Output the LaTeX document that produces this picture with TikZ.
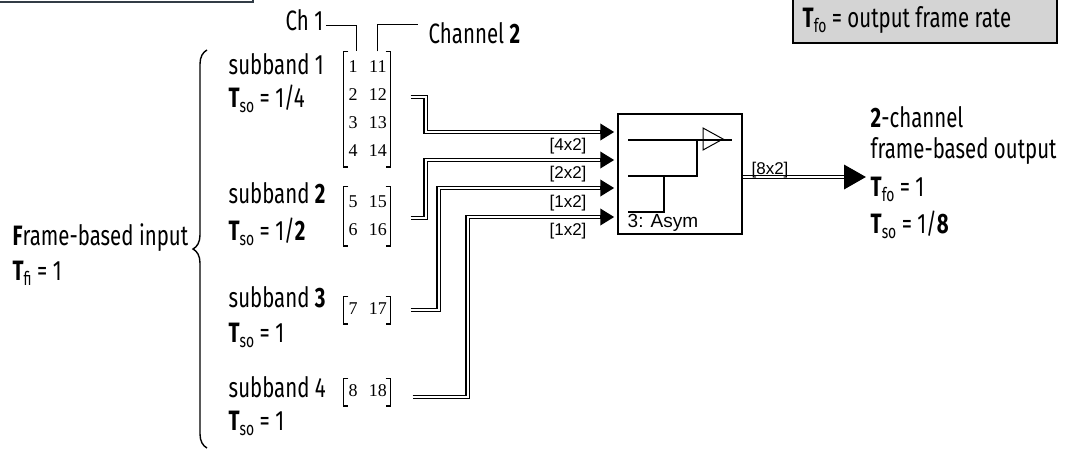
\documentclass[tikz,border=0pt]{standalone}
\usepackage{fontspec}
\setmainfont{Fira Sans}[FakeStretch=0.73]
\newfontfamily\numfont{Liberation Serif}
\newfontfamily\dimfont{Liberation Sans}
\usepackage{tikz}
\usetikzlibrary{positioning, arrows.meta, calc, decorations.pathreplacing}
\definecolor{key-gray}{HTML}{D4D4D4}
\definecolor{frame-slate}{HTML}{323C46}
\newcommand\Tsub[1]{\textbf{T}\raisebox{-2.8pt}{\fontsize{9.5}{9.5}\selectfont#1}}
\newcommand\cols{@{\hspace{2.2pt}}c@{\hspace{5.7pt}}c@{\hspace{1.5pt}}}

\begin{document}
\begin{tikzpicture}[
    x=0.5pt, y=-0.5pt, line width=0.7pt,
    lbl/.style={anchor=base west, inner sep=0pt, font=\fontsize{14}{16}\selectfont},
    mat/.style={inner sep=0pt, inner ysep=0.5pt, font=\numfont\fontsize{9}{14}\selectfont},
    brk/.style={line width=0.8pt},
    bus/.style={draw, double=white, double distance=1.1pt, line width=0.65pt},
    tip/.style={-{Triangle[length=7pt, width=8pt]}, line width=1.8pt},
    dims/.style={inner sep=0pt, font=\dimfont\fontsize{8.5}{9}\selectfont},
]
    \useasboundingbox (0,0) rectangle (1068,450);

    % Frame cut off at the top
    \draw[frame-slate, line width=1pt] (-4,-20) rectangle (253,1.5);

    % Key box
    \draw[fill=key-gray] (793,-10) rectangle (1057,43);
    \node[lbl] (key) at (802,27) {\Tsub{fo} = output frame rate};

    % Channel callouts
    \node[lbl] (ch1) at (285,30) {Ch 1};
    \node[lbl] (ch2) at (428,43) {Channel \textbf{2}};

    % Input matrices
    \node[mat] (m1) at (367,109) {\begin{tabular}{\cols}1&11\\2&12\\3&13\\4&14\end{tabular}};
    \node[mat] (m2) at (367,216) {\begin{tabular}{\cols}5&15\\6&16\end{tabular}};
    \node[mat, font=\numfont\fontsize{9}{12}\selectfont] (m3) at (367,310) {\begin{tabular}{\cols}7&17\end{tabular}};
    \node[mat, font=\numfont\fontsize{9}{12}\selectfont] (m4) at (367,392) {\begin{tabular}{\cols}8&18\end{tabular}};
    \foreach \m in {m1, m2, m3, m4} {
        \draw[brk] ([xshift=2.5pt]\m.north west) -| (\m.south west) -- ++(2.5pt,0);
        \draw[brk] ([xshift=-2.5pt]\m.north east) -| (\m.south east) -- ++(-2.5pt,0);
    }

    % Callout leaders
    \draw ([xshift=1pt,yshift=-3pt]ch1.east) -| ($(m1.north west)+(13,0)$);
    \draw ($(m1.north west)+(34,0)$) |- ([xshift=-5pt,yshift=4pt]ch2.west);

    % Subband labels
    \node[lbl] (sb1) at (228,74) {subband 1};
    \node[lbl] (ts1) at (228,107) {\Tsub{so} = 1/4};
    \node[lbl] (sb2) at (228,203) {subband \textbf{2}};
    \node[lbl] (ts2) at (228,240) {\Tsub{so} = 1/\textbf{2}};
    \node[lbl] (sb3) at (228,307) {subband \textbf{3}};
    \node[lbl] (ts3) at (228,342) {\Tsub{so} = 1};
    \node[lbl] (sb4) at (228,397) {subband 4};
    \node[lbl] (ts4) at (228,430) {\Tsub{so} = 1};

    % Input brace
    \draw[decorate, decoration={brace, amplitude=7pt}] (207,448) -- (207,50);
    \node[lbl] (fin) at (12,245) {\textbf{F}rame-based input};
    \node[lbl] (tfi) at (12,280) {\Tsub{fi} = 1};

    % Concatenation block
    \node[draw, minimum width=62pt, minimum height=60pt, inner sep=0pt] (mux) at (680,174) {};
    \draw (628,140) -- (732,140);
    \draw[line width=0.5pt] (703,128) -- (723,139) -- (703,150) -- cycle;
    \draw (628,176) -- (697,176) -- (697,140);
    \draw (628,212) -- (664,212) -- (664,176);
    \node[dims, anchor=west, font=\dimfont\fontsize{9.5}{10}\selectfont] (asym) at (627,223) {3: Asym};

    % Block inputs
    \coordinate (in1) at ($(mux.west)+(-3,-42)$);
    \coordinate (in2) at ($(mux.west)+(-3,-14)$);
    \coordinate (in3) at ($(mux.west)+(-3,14)$);
    \coordinate (in4) at ($(mux.west)+(-3,43)$);
    \coordinate (s1) at ($(m1.east)+(20,-12)$);
    \coordinate (s2) at ($(m2.east)+(20,2)$);
    \coordinate (s3) at ($(m3.east)+(20,0)$);
    \coordinate (s4) at ($(m4.east)+(22,5)$);

    \path[bus] (s1) -- ++(15,0) |- ([xshift=-6pt]in1);
    \path[bus] (s2) -- ++(15,0) |- ([xshift=-6pt]in2);
    \path[bus] (s3) -- ++(28,0) |- ([xshift=-6pt]in3);
    \path[bus] (s4) -- ++(55,0) |- ([xshift=-6pt]in4);
    \foreach \i in {1,2,3,4}
        \draw[tip] ([xshift=-7pt]in\i) -- (in\i);

    \node[dims] (d1) at (568,146) {[4x2]};
    \node[dims] (d2) at (568,174) {[2x2]};
    \node[dims] (d3) at (568,203) {[1x2]};
    \node[dims] (d4) at (568,231) {[1x2]};

    % Output
    \coordinate (out) at (866,177);
    \path[bus] ($(mux.east)+(0,3)$) -- ([xshift=-9pt]out);
    \draw[-{Triangle[length=11pt, width=12pt]}, line width=1.8pt] ([xshift=-10pt]out) -- (out);
    \node[dims] (d5) at (770,170) {[8x2]};

    \node[lbl] (oc1) at (870,127) {\textbf{2}-channel};
    \node[lbl] (oc2) at (870,158) {frame-based output};
    \node[lbl] (oc3) at (870,196) {\Tsub{fo} = 1};
    \node[lbl] (oc4) at (870,233) {\Tsub{so} = 1/\textbf{8}};
\end{tikzpicture}
\end{document}
